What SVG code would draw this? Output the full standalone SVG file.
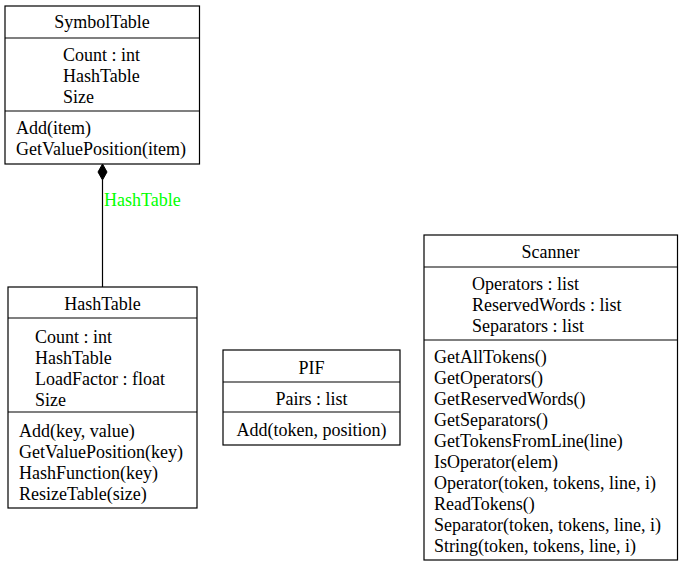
<svg xmlns="http://www.w3.org/2000/svg" width="683" height="566" viewBox="0 0 683 566">
<style>
.box{fill:#fff;stroke:#000;stroke-width:1.2}
.ln{stroke:#000;stroke-width:1.2}
</style>
<rect width="683" height="566" fill="#fff"/>
<g id="connectors">
<line x1="102.5" y1="180" x2="102.5" y2="287" class="ln"/>
<polygon points="102.5,164 107,172 102.5,180 98,172" fill="#000" stroke="#000"/>
<text x="104" y="206" font-family="'Liberation Serif'" font-size="18" fill="#00ff00">HashTable</text>
</g>
<g id="SymbolTable">
<rect x="5" y="6" width="194.5" height="158" class="box"/>
<line x1="5" y1="38" x2="199.5" y2="38" class="ln"/>
<line x1="5" y1="111" x2="199.5" y2="111" class="ln"/>
<text x="102" y="28" text-anchor="middle" font-family="'Liberation Serif'" font-size="18">SymbolTable</text>
<text x="63" y="61" font-family="'Liberation Serif'" font-size="18">Count : int</text>
<text x="63" y="82" font-family="'Liberation Serif'" font-size="18">HashTable</text>
<text x="63" y="103" font-family="'Liberation Serif'" font-size="18">Size</text>
<text x="16" y="134" font-family="'Liberation Serif'" font-size="18">Add(item)</text>
<text x="16" y="155" font-family="'Liberation Serif'" font-size="18">GetValuePosition(item)</text>
</g>
<g id="HashTable">
<rect x="8" y="287" width="189" height="221" class="box"/>
<line x1="8" y1="318" x2="197" y2="318" class="ln"/>
<line x1="8" y1="412" x2="197" y2="412" class="ln"/>
<text x="102.5" y="310" text-anchor="middle" font-family="'Liberation Serif'" font-size="18">HashTable</text>
<text x="35" y="343" font-family="'Liberation Serif'" font-size="18">Count : int</text>
<text x="35" y="364" font-family="'Liberation Serif'" font-size="18">HashTable</text>
<text x="35" y="385" font-family="'Liberation Serif'" font-size="18">LoadFactor : float</text>
<text x="35" y="406" font-family="'Liberation Serif'" font-size="18">Size</text>
<text x="19" y="437" font-family="'Liberation Serif'" font-size="18">Add(key, value)</text>
<text x="19" y="458" font-family="'Liberation Serif'" font-size="18">GetValuePosition(key)</text>
<text x="19" y="479" font-family="'Liberation Serif'" font-size="18">HashFunction(key)</text>
<text x="19" y="500" font-family="'Liberation Serif'" font-size="18">ResizeTable(size)</text>
</g>
<g id="PIF">
<rect x="223" y="350" width="177" height="95" class="box"/>
<line x1="223" y1="382" x2="400" y2="382" class="ln"/>
<line x1="223" y1="412" x2="400" y2="412" class="ln"/>
<text x="311.5" y="374" text-anchor="middle" font-family="'Liberation Serif'" font-size="18">PIF</text>
<text x="311.5" y="405" text-anchor="middle" font-family="'Liberation Serif'" font-size="18">Pairs : list</text>
<text x="311.5" y="436" text-anchor="middle" font-family="'Liberation Serif'" font-size="18">Add(token, position)</text>
</g>
<g id="Scanner">
<rect x="424" y="235" width="253.5" height="325" class="box"/>
<line x1="424" y1="267" x2="677.5" y2="267" class="ln"/>
<line x1="424" y1="340" x2="677.5" y2="340" class="ln"/>
<text x="550.5" y="258" text-anchor="middle" font-family="'Liberation Serif'" font-size="18">Scanner</text>
<text x="472" y="290" font-family="'Liberation Serif'" font-size="18">Operators : list</text>
<text x="472" y="311" font-family="'Liberation Serif'" font-size="18">ReservedWords : list</text>
<text x="472" y="332" font-family="'Liberation Serif'" font-size="18">Separators : list</text>
<text x="434" y="363" font-family="'Liberation Serif'" font-size="18">GetAllTokens()</text>
<text x="434" y="384" font-family="'Liberation Serif'" font-size="18">GetOperators()</text>
<text x="434" y="405" font-family="'Liberation Serif'" font-size="18">GetReservedWords()</text>
<text x="434" y="426" font-family="'Liberation Serif'" font-size="18">GetSeparators()</text>
<text x="434" y="447" font-family="'Liberation Serif'" font-size="18">GetTokensFromLine(line)</text>
<text x="434" y="468" font-family="'Liberation Serif'" font-size="18">IsOperator(elem)</text>
<text x="434" y="489" font-family="'Liberation Serif'" font-size="18">Operator(token, tokens, line, i)</text>
<text x="434" y="510" font-family="'Liberation Serif'" font-size="18">ReadTokens()</text>
<text x="434" y="531" font-family="'Liberation Serif'" font-size="18">Separator(token, tokens, line, i)</text>
<text x="434" y="552" font-family="'Liberation Serif'" font-size="18">String(token, tokens, line, i)</text>
</g>
</svg>
